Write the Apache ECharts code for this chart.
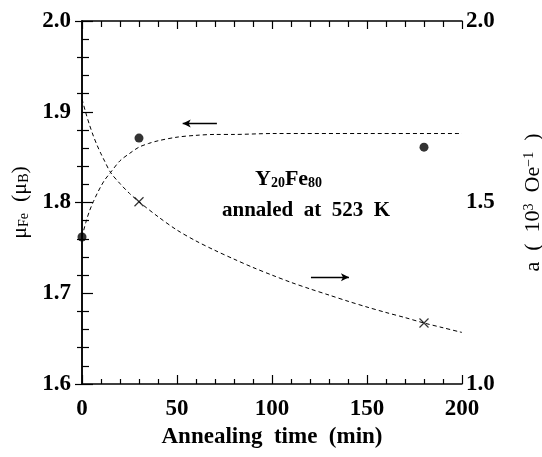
<!DOCTYPE html>
<html><head><meta charset="utf-8">
<script src="https://cdn.jsdelivr.net/npm/echarts@6/dist/echarts.min.js"></script>
<style>html,body{margin:0;padding:0;background:#fff}#c{width:542px;height:457px}</style>
</head><body><div id="c"></div>
<script>
// ---- data ----
const xTickLabels = [0, 50, 100, 150, 200];
const leftTickLabels = [1.6, 1.7, 1.8, 1.9, 2.0];
const rightTickLabels = [1.0, 1.5, 2.0];

// mu_Fe fitted dashed curve (left axis)
const muCurveTime = [0, 2, 4, 6, 8, 10, 12, 15, 20, 25, 30, 35, 40, 50, 60, 70, 80, 100, 150, 200];
const muCurveVal  = [1.762, 1.778, 1.791, 1.801, 1.810, 1.818, 1.825, 1.833, 1.846, 1.854, 1.861, 1.865, 1.868, 1.872, 1.874, 1.875, 1.875, 1.876, 1.876, 1.876];
// a fitted dashed curve (right axis)
const aCurveTime = [0, 2, 4, 6, 8, 10, 12, 15, 20, 25, 30, 40, 50, 60, 70, 80, 90, 100, 110, 120, 130, 140, 150, 160, 170, 180, 190, 200];
const aCurveVal  = [1.785, 1.747, 1.713, 1.683, 1.657, 1.634, 1.613, 1.583, 1.552, 1.525, 1.502, 1.461, 1.424, 1.394, 1.368, 1.344, 1.321, 1.300, 1.280, 1.262, 1.245, 1.228, 1.212, 1.197, 1.183, 1.168, 1.155, 1.142];
// measured points
const muDotTime = [0, 30, 180];
const muDotVal  = [1.762, 1.871, 1.861];
const aCrossTime = [30, 180];
const aCrossVal  = [1.502, 1.168];
// annotation arrows (data coordinates)
const arrowLeftFrom = [71, 1.887], arrowLeftTo = [53, 1.887];
const arrowRightFrom = [120.5, 1.294], arrowRightTo = [140.5, 1.294];

const zip = (a, b) => a.map((v, i) => [v, b[i]]);
const FONT = 'Liberation Serif';

const chart = echarts.init(document.getElementById('c'), null, {renderer: 'canvas'});
const axisLine = {show: true, lineStyle: {color: '#000', width: 1.5}};
const tickStyle = {color: '#000', width: 1.2};

chart.setOption({
  animation: false,
  backgroundColor: '#fff',
  grid: {left: 82, right: 80, top: 21, bottom: 73, outerBoundsMode: 'none', containLabel: false},
  xAxis: [{
    type: 'value', min: 0, max: 200, interval: 50, position: 'bottom',
    axisLine: axisLine,
    axisTick: {inside: true, length: 9, lineStyle: tickStyle},
    minorTick: {show: true, splitNumber: 5, length: 5, lineStyle: tickStyle},
    splitLine: {show: false},
    axisLabel: {margin: 14, fontFamily: FONT, fontWeight: 'bold', fontSize: 23, color: '#000',
      formatter: v => xTickLabels.includes(v) ? String(v) : ''},
    name: 'Annealing  time  (min)', nameLocation: 'middle', nameGap: 40,
    nameTextStyle: {fontFamily: FONT, fontWeight: 'bold', fontSize: 23, color: '#000'}
  }, {
    type: 'value', min: 0, max: 200, interval: 50, position: 'top',
    axisLine: axisLine,
    axisTick: {inside: true, length: 8, lineStyle: tickStyle},
    minorTick: {show: true, splitNumber: 5, length: 6, lineStyle: tickStyle},
    splitLine: {show: false}, axisLabel: {show: false}
  }],
  yAxis: [{
    type: 'value', min: 1.6, max: 2.0, interval: 0.1, position: 'left',
    axisLine: axisLine,
    axisTick: {inside: true, length: 11, lineStyle: tickStyle},
    minorTick: {show: true, splitNumber: 5, length: 7, lineStyle: tickStyle},
    splitLine: {show: false},
    axisLabel: {margin: 11, fontFamily: FONT, fontWeight: 'bold', fontSize: 23, color: '#000',
      formatter: v => leftTickLabels.some(t => Math.abs(t - v) < 1e-6) ? v.toFixed(1) : ''},
    name: '{t|μ}{s|Fe}{t|  (μ}{s|B}{t|)}', nameLocation: 'middle', nameGap: 48,
    nameTextStyle: {rich: {
      t: {fontFamily: FONT, fontSize: 22, color: '#000'},
      s: {fontFamily: FONT, fontSize: 14, color: '#000', verticalAlign: 'bottom', padding: [8, 0, 0, 0]}
    }}
  }, {
    type: 'value', min: 1.0, max: 2.0, interval: 0.5, position: 'right',
    axisLine: axisLine,
    axisTick: {inside: true, length: 7, lineStyle: tickStyle},
    minorTick: {show: true, splitNumber: 5, length: 5, lineStyle: tickStyle},
    splitLine: {show: false},
    axisLabel: {margin: 4, fontFamily: FONT, fontWeight: 'bold', fontSize: 23, color: '#000',
      formatter: v => rightTickLabels.some(t => Math.abs(t - v) < 1e-6) ? v.toFixed(1) : ''},
    name: '{t|a  (  10}{p|3}{t|  Oe}{p|−1}{t|  )}', nameLocation: 'middle', nameGap: 60,
    nameTextStyle: {rich: {
      t: {fontFamily: FONT, fontSize: 22, color: '#000'},
      p: {fontFamily: FONT, fontSize: 14, color: '#000', verticalAlign: 'top', padding: [0, 0, 8, 0]}
    }}
  }],
  series: [{
    type: 'line', xAxisIndex: 0, yAxisIndex: 0, data: zip(muCurveTime, muCurveVal),
    showSymbol: false, smooth: 0.3, lineStyle: {color: '#000', width: 1, type: [4, 3]}, silent: true
  }, {
    type: 'line', xAxisIndex: 0, yAxisIndex: 1, data: zip(aCurveTime, aCurveVal),
    showSymbol: false, smooth: 0.3, lineStyle: {color: '#000', width: 1, type: [4, 3]}, silent: true
  }, {
    type: 'scatter', xAxisIndex: 0, yAxisIndex: 0, data: zip(muDotTime, muDotVal),
    symbol: 'circle', symbolSize: 9, itemStyle: {color: '#000'}, z: 5,
    markLine: {silent: true, symbol: ['none', 'arrow'], symbolSize: [6, 8],
      lineStyle: {color: '#000', width: 1.3, type: 'solid'}, label: {show: false},
      data: [[{coord: arrowLeftFrom}, {coord: arrowLeftTo}]]}
  }, {
    type: 'scatter', xAxisIndex: 0, yAxisIndex: 1, data: zip(aCrossTime, aCrossVal),
    symbol: 'path://M0,0L10,10M10,0L0,10', symbolSize: 9,
    itemStyle: {color: 'none', borderColor: '#000', borderWidth: 1.2}, z: 5,
    markLine: {silent: true, symbol: ['none', 'arrow'], symbolSize: [6, 8],
      lineStyle: {color: '#000', width: 1.3, type: 'solid'}, label: {show: false},
      data: [[{coord: arrowRightFrom}, {coord: arrowRightTo}]]}
  }],
  graphic: [{
    type: 'text', left: 255, top: 168,
    style: {text: '{t|Y}{s|20}{t|Fe}{s|80}', rich: {
      t: {fontFamily: FONT, fontWeight: 'bold', fontSize: 22, fill: '#000'},
      s: {fontFamily: FONT, fontWeight: 'bold', fontSize: 14, fill: '#000', verticalAlign: 'bottom', padding: [8, 0, 0, 0]}
    }}
  }, {
    type: 'text', left: 222, top: 200,
    style: {text: 'annaled  at  523  K', fontFamily: FONT, fontWeight: 'bold', fontSize: 21, fill: '#000'}
  }]
});
</script>
</body></html>
